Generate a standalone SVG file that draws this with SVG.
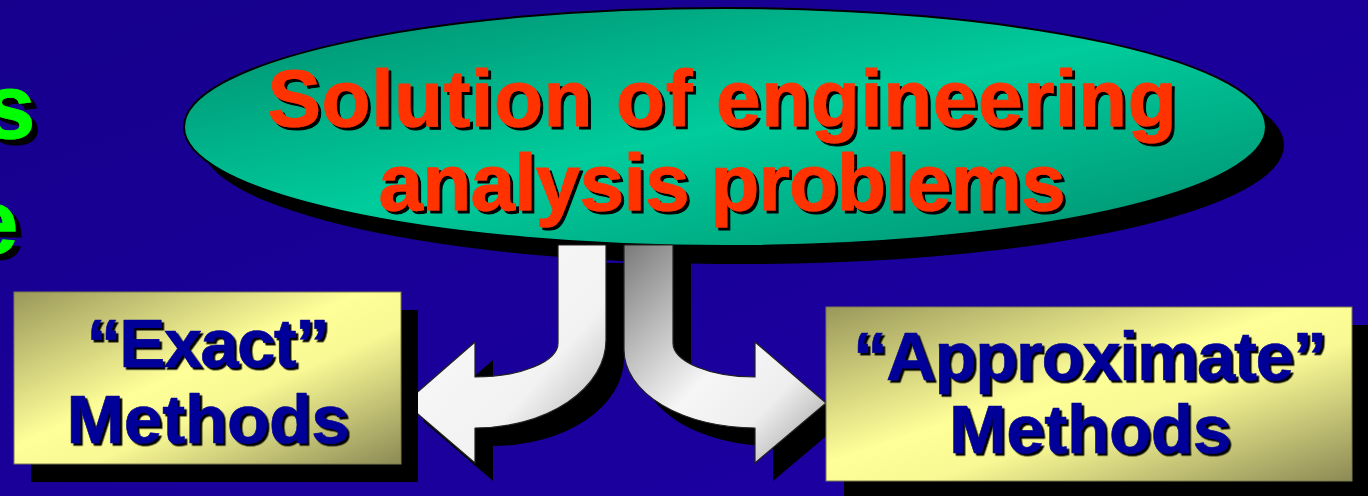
<svg xmlns="http://www.w3.org/2000/svg" width="1368" height="496" viewBox="0 0 1368 496">
  <style>
    .t { font-family: "Liberation Sans", Arial, sans-serif; font-weight: bold; text-anchor: middle; stroke-linejoin: round; }
    .title { font-size: 80px; fill: #ff3300; stroke: #ff3300; stroke-width: 1; filter: url(#sh3); }
    .box { font-size: 69px; fill: #000099; stroke: #000099; stroke-width: 0.6; filter: url(#sh2); }
    .green { font-size: 90px; fill: #00ff00; stroke: #00ff00; stroke-width: 1; filter: url(#sh5); text-anchor: end; }
    .shadow { fill: #000; }
    .boxrect { fill: url(#boxGrad); stroke: #7a7a50; stroke-width: 1; }
    .arrow { stroke: #222; stroke-width: 1.2; stroke-linejoin: round; }
  </style>
  <defs>
    <linearGradient id="bg" x1="0" y1="0" x2="1" y2="1">
      <stop offset="0" stop-color="#16008c"/>
      <stop offset="1" stop-color="#1e00a6"/>
    </linearGradient>
    <linearGradient id="ellGrad" x1="0" y1="0" x2="1" y2="1">
      <stop offset="0" stop-color="#008a6c"/>
      <stop offset="0.5" stop-color="#00cc9c"/>
      <stop offset="1" stop-color="#008c6c"/>
    </linearGradient>
    <linearGradient id="boxGrad" x1="0" y1="0" x2="1" y2="1">
      <stop offset="0" stop-color="#9a985a"/>
      <stop offset="0.45" stop-color="#ffff99"/>
      <stop offset="0.6" stop-color="#f8f894"/>
      <stop offset="1" stop-color="#8c8a55"/>
    </linearGradient>
    <linearGradient id="arrL" gradientUnits="userSpaceOnUse" x1="420" y1="260" x2="650" y2="460">
      <stop offset="0" stop-color="#fafafa"/>
      <stop offset="0.55" stop-color="#f2f2f2"/>
      <stop offset="1" stop-color="#8c8c8c"/>
    </linearGradient>
    <linearGradient id="arrR" gradientUnits="userSpaceOnUse" x1="610" y1="245" x2="840" y2="470">
      <stop offset="0" stop-color="#727272"/>
      <stop offset="0.5" stop-color="#f6f6f6"/>
      <stop offset="0.7" stop-color="#eeeeee"/>
      <stop offset="1" stop-color="#8a8a8a"/>
    </linearGradient>
    <filter id="sh3" x="-5%" y="-20%" width="110%" height="140%">
      <feDropShadow dx="3" dy="3" stdDeviation="0" flood-color="#000"/>
    </filter>
    <filter id="sh2" x="-5%" y="-20%" width="110%" height="140%">
      <feDropShadow dx="2.5" dy="2.5" stdDeviation="0" flood-color="#000"/>
    </filter>
    <filter id="sh5" x="-20%" y="-20%" width="150%" height="150%">
      <feDropShadow dx="6" dy="6" stdDeviation="0" flood-color="#000"/>
    </filter>
    <path id="arrowLeft" d="M558,245 H606 V340 A131 88 0 0 1 475,428 V463 L405,403 L475,342 V377 A83 34 0 0 0 558,343 Z"/>
    <path id="arrowRight" d="M624,245 H673 V343 A82 34 0 0 0 755,377 V342 L826,403 L755,463 V428 A131 78 0 0 1 624,350 Z"/>
  </defs>

  <rect x="0" y="0" width="1368" height="496" fill="url(#bg)"/>

  <g id="edge-text">
    <text class="t green" x="35" y="138">s</text>
    <text class="t green" x="18" y="253">e</text>
  </g>

  <g id="node-solution">
    <ellipse class="shadow" cx="743" cy="145" rx="541" ry="119"/>
    <ellipse cx="725" cy="127" rx="541" ry="119" fill="url(#ellGrad)" stroke="#000" stroke-width="2"/>
    <text class="t title" x="722" y="126" textLength="909" lengthAdjust="spacing">Solution of engineering</text>
    <text class="t title" x="722" y="210" textLength="687" lengthAdjust="spacing">analysis problems</text>
  </g>

  <g id="connectors">
    <use href="#arrowLeft" class="shadow" transform="translate(18,18)"/>
    <use href="#arrowRight" class="shadow" transform="translate(18,18)"/>
    <use href="#arrowLeft" class="arrow" fill="url(#arrL)"/>
    <use href="#arrowRight" class="arrow" fill="url(#arrR)"/>
  </g>

  <g id="node-exact">
    <rect class="shadow" x="31" y="310" width="387" height="172"/>
    <rect class="boxrect" x="14" y="292" width="387" height="172"/>
    <text class="t box" x="208" y="367" textLength="243" lengthAdjust="spacing">“Exact”</text>
    <text class="t box" x="208" y="443" textLength="283" lengthAdjust="spacing">Methods</text>
  </g>

  <g id="node-approximate">
    <rect class="shadow" x="844" y="325" width="526" height="174"/>
    <rect class="boxrect" x="826" y="307" width="526" height="174"/>
    <text class="t box" x="1090" y="380" textLength="474" lengthAdjust="spacing">“Approximate”</text>
    <text class="t box" x="1090" y="453" textLength="282" lengthAdjust="spacing">Methods</text>
  </g>
</svg>
